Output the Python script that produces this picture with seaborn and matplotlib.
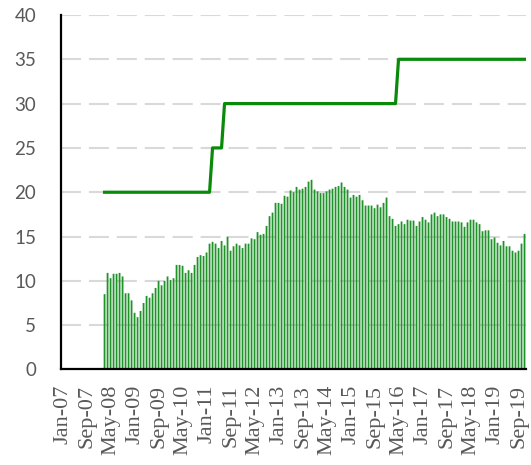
import numpy as np
import pandas as pd
import seaborn as sns
import matplotlib.pyplot as plt

# monthly categories Jan-07 .. Nov-19
months = pd.date_range('2007-01-01', '2019-11-01', freq='MS').strftime('%b-%y').tolist()

# bar series starts Mar-08
bar_start = 'Mar-08'
bar_values = [
    8.5, 10.9, 10.3, 10.8, 10.8, 10.9, 10.5, 8.6, 8.6, 7.8,
    6.4, 5.9, 6.6, 7.5, 8.3, 8.1, 8.6, 9.2, 10.0, 9.5,
    10.0, 10.5, 10.1, 10.3, 11.8, 11.8, 11.7, 10.9, 11.2, 10.9,
    11.8, 12.7, 12.9, 12.8, 13.2, 14.2, 14.4, 14.2, 13.7, 14.5,
    14.0, 15.0, 13.4, 13.9, 14.2, 14.0, 13.7, 14.2, 14.2, 14.8,
    14.7, 15.5, 15.2, 15.3, 16.2, 17.3, 17.7, 18.8, 18.8, 18.7,
    19.6, 19.5, 20.2, 20.0, 20.6, 20.3, 20.4, 20.6, 21.2, 21.4,
    20.3, 20.1, 19.9, 19.9, 20.1, 20.3, 20.4, 20.6, 20.7, 21.1,
    20.6, 20.3, 19.4, 19.7, 19.5, 19.7, 19.1, 18.5, 18.5, 18.5,
    18.2, 18.6, 18.3, 18.8, 19.4, 17.3, 17.0, 16.2, 16.4, 16.7,
    16.4, 16.9, 16.8, 16.8, 16.2, 16.7, 17.2, 16.9, 16.6, 17.5,
    17.7, 17.3, 17.5, 17.5, 17.2, 17.0, 16.7, 16.7, 16.7, 16.6,
    16.1, 16.6, 16.9, 16.9, 16.6, 16.4, 15.6, 15.7, 15.7, 14.7,
    14.9, 14.3, 14.0, 14.5, 13.9, 13.9, 13.4, 13.2, 13.4, 14.2, 15.3,
]

# step line levels (same months as bars)
line_values = [20] * 36 + [25] * 4 + [30] * 58 + [35] * 43

tick_labels = months[::8]

start = months.index(bar_start)
bar_months = months[start:start + len(bar_values)]
df = pd.DataFrame({'month': bar_months, 'value': bar_values})

plt.rcParams['font.family'] = ['Lato', 'DejaVu Sans']

fig = plt.figure(figsize=(5.31, 4.65), dpi=100)
ax = fig.add_axes([0.115, 0.2054, 0.8756, 0.7624])

sns.barplot(data=df, x='month', y='value', order=months, color='#1f932a',
            width=0.6, saturation=1, ax=ax, zorder=2)
for p in ax.patches:
    p.set_snap(False)

pos = np.arange(start, start + len(line_values))
sns.lineplot(x=pos, y=line_values, color='#0a8a0a', linewidth=2.3, ax=ax,
             zorder=3)

ax.set_xlim(-0.5, len(months) - 0.5)
ax.set_ylim(0, 40)
ax.set_yticks(range(0, 41, 5))
ax.set_xticks(range(0, len(months), 8))
ax.set_xticklabels(tick_labels, rotation=90, family='Liberation Serif',
                   fontsize=16, color='#595959')
ax.tick_params(axis='y', length=0, pad=18, labelsize=13.5, labelcolor='#595959')
ax.tick_params(axis='x', length=0, pad=11)

ax.yaxis.grid(True, color='#d9d9d9', linewidth=1.5, linestyle=(0, (9.6, 3.8)),
              zorder=0)
ax.xaxis.grid(False)
ax.set_axisbelow(True)

for s in ['top', 'right']:
    ax.spines[s].set_visible(False)
for s in ['left', 'bottom']:
    ax.spines[s].set_color('black')
    ax.spines[s].set_linewidth(1.6)

ax.set_xlabel('')
ax.set_ylabel('')

fig.savefig('out.png', dpi=100)
